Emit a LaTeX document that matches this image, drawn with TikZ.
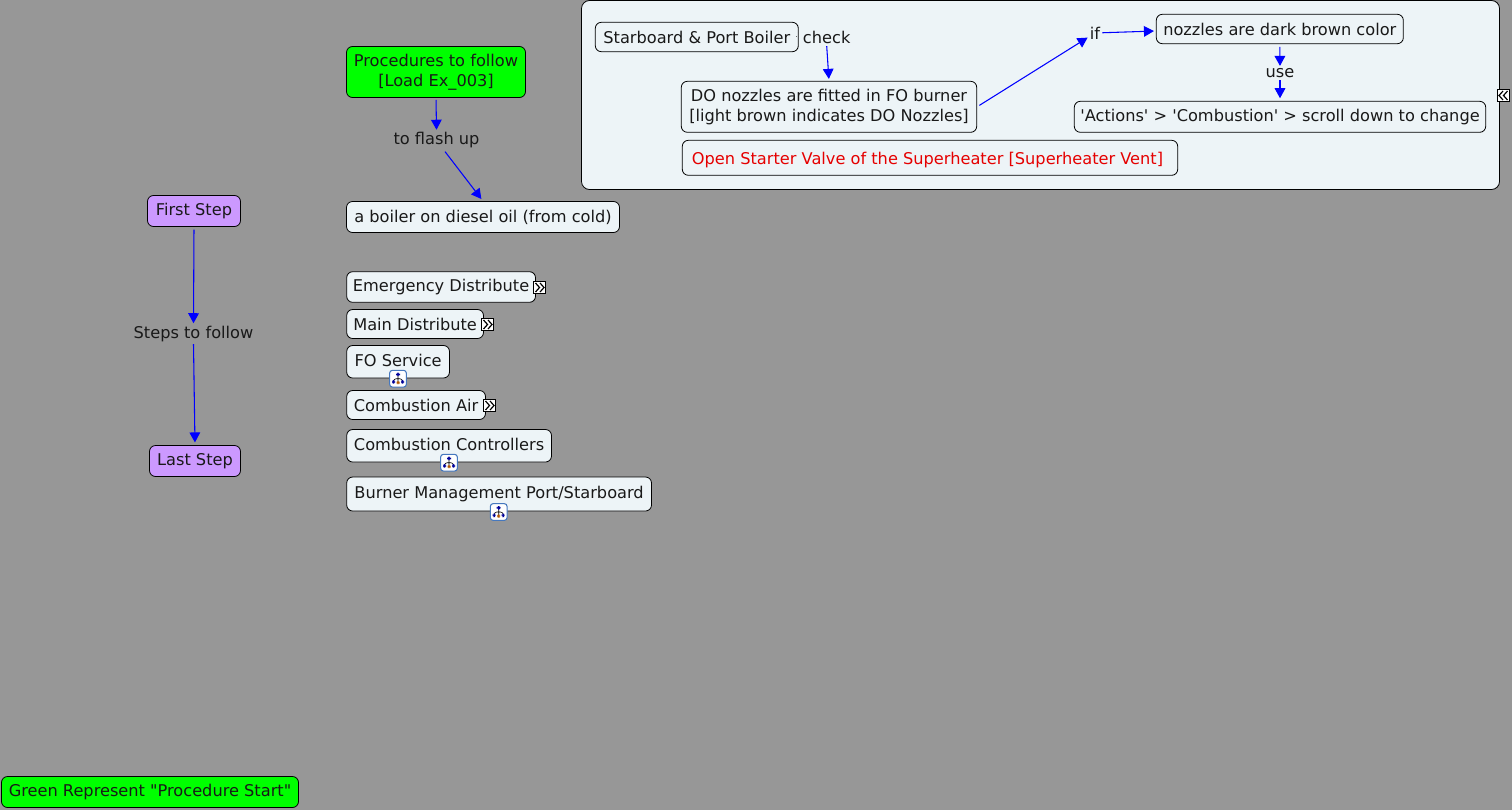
\documentclass[tikz,border=0pt]{standalone}
\usepackage{fontspec}
\setmainfont{DejaVu Sans}[Ligatures=TeXOff]
\usetikzlibrary{positioning, arrows.meta}
\definecolor{mapGrey}{RGB}{151,151,151}
\definecolor{panelBlue}{RGB}{237,244,247}
\definecolor{stepPurple}{RGB}{204,153,255}
\definecolor{procGreen}{RGB}{0,255,0}
\definecolor{iconBlue}{RGB}{70,120,190}
% box with its left/right/top/bottom edges given in pixels of the reference
\newcommand{\mapbox}[7][]{%
  \node[box, #1, minimum width=#5*0.75pt-#4*0.75pt, minimum height=#7*0.75pt-#6*0.75pt]
    (#2) at ({(#4+#5)/2},{(#6+#7)/2}) {#3};}

\begin{document}
\begin{tikzpicture}[
    x=0.75pt, y=-0.75pt,
    font=\fontsize{12.15pt}{14.8pt}\selectfont,
    box/.style={draw=black, line width=0.6pt, rounded corners=4.5pt, align=center,
                inner sep=0pt, fill=panelBlue, text=black!90},
    lbl/.style={inner sep=1.5pt, text=black!90},
    arr/.style={-{Triangle[length=7.5pt, width=8pt]}, line width=0.8pt, blue},
    expandicon/.style={draw=black, fill=white, line width=0.7pt, minimum size=9pt, inner sep=0pt,
      path picture={
        \draw[black, line width=0.9pt] (-4,-4.5) -- (0,0) -- (-4,4.5);
        \draw[black, line width=0.9pt] (0.5,-4.5) -- (4.5,0) -- (0.5,4.5);
      }},
    collapseicon/.style={draw=black, fill=white, line width=0.7pt, minimum size=9pt, inner sep=0pt,
      path picture={
        \draw[black, line width=0.9pt] (4,-4.5) -- (0,0) -- (4,4.5);
        \draw[black, line width=0.9pt] (-0.5,-4.5) -- (-4.5,0) -- (-0.5,4.5);
      }},
    mapicon/.style={draw=iconBlue, fill=white, line width=0.8pt, rounded corners=2pt,
      minimum size=12.5pt, inner sep=0pt,
      path picture={
        \draw[black, line width=0.45pt] (0,-3) -- (0,3) (-4.5,2.5) -- (-4.5,0) -- (4.5,0) -- (4.5,2.5);
        \fill[blue!60!black] (-2,-6) rectangle (2,-2.5);
        \fill[blue!60!black] (-6,1.5) rectangle (-3,5);
        \fill[orange!70!black] (-1.5,2.5) rectangle (1.5,5.5);
        \fill[blue!60!black] (3,1.5) rectangle (6,5);
      }},
  ]
    \useasboundingbox (0,0) rectangle (1512,810);
    \fill[mapGrey] (0,0) rectangle (1512,810);

    % panel top right
    \node[box, rounded corners=6pt, minimum width=688.5pt, minimum height=141.75pt] (panel) at (1040.5,95) {};
    \node[collapseicon] (panelicon) at (1503.5,95.5) {};

    \mapbox{star}{Starboard \& Port Boiler}{595.3}{798.3}{22.3}{51.7}
    \node[lbl] (check) at (826.7,37.5) {check};
    \mapbox{nozzleDO}{DO nozzles are fitted in FO burner\\{}[light brown indicates DO Nozzles]}{681.3}{976.7}{81.3}{132.3}
    \mapbox[text=red!90!black, text height=12pt]{valve}{Open Starter Valve of the Superheater [Superheater Vent]\kern3.75pt}{682.3}{1177.7}{140.3}{175.3}
    \node[lbl] (iflbl) at (1095,33) {if};
    \mapbox{dark}{nozzles are dark brown color}{1156.3}{1403.3}{14.3}{43.7}
    \node[lbl] (use) at (1280,73.5) {use};
    \mapbox{actions}{'Actions' > 'Combustion' > scroll down to change}{1074.3}{1485.7}{101.3}{132.3}

    % procedure start
    \mapbox[fill=procGreen]{proc}{Procedures to follow\\{}[Load Ex\_003]}{346.5}{525.5}{46.5}{97.5}
    \node[lbl] (flash) at (436.5,140.5) {to flash up};
    \mapbox{boiler}{a boiler on diesel oil (from cold)}{346.5}{619.5}{201.5}{232.5}

    % steps
    \mapbox[fill=stepPurple]{first}{First Step}{147.5}{240.5}{195.5}{226.5}
    \node[lbl] (steps) at (193.5,334) {Steps to follow};
    \mapbox[fill=stepPurple]{last}{Last Step}{149.5}{240.5}{445.5}{476.5}

    \mapbox{emergency}{Emergency Distribute}{346.7}{535.5}{271.7}{302.3}
    \mapbox{main}{Main Distribute}{346.7}{483.5}{309.5}{338.5}
    \mapbox[text depth=2.2pt]{service}{FO Service}{346.7}{449.5}{345.5}{378}
    \mapbox{air}{Combustion Air}{346.7}{485.5}{390.5}{419.5}
    \mapbox[text depth=1.5pt]{control}{Combustion Controllers}{346.7}{551.5}{429.5}{462}
    \mapbox{burner}{Burner Management Port/Starboard}{346.7}{651.5}{477}{511}

    \node[expandicon] (emergencyicon) at (539.5,287.5) {};
    \node[expandicon] (mainicon) at (487.5,324.5) {};
    \node[expandicon] (airicon) at (489.5,405.5) {};
    \node[mapicon] (serviceicon) at (398,378.7) {};
    \node[mapicon] (controlicon) at (449,462.7) {};
    \node[mapicon] (burnericon) at (498.7,512) {};

    \mapbox[fill=procGreen]{legend}{Green Represent "Procedure Start"}{1.5}{298.5}{776.5}{807.5}

    \draw[line width=0.4pt, black, shorten >=3pt, shorten <=1.8pt] (star.east) -- (check.west);
    \draw[arr, shorten >=1.5pt] (check.south) -- (nozzleDO.north);
    \draw[arr, shorten <=2pt] (nozzleDO.east) -- (iflbl);
    \draw[arr, shorten >=1.5pt] (iflbl) -- ([yshift=-1.5pt]dark.west);
    \draw[arr, shorten <=2pt, shorten >=0.5pt] (dark.south) -- (use.north);
    \draw[arr, shorten >=2pt] (use.south) -- (actions.north);
    \draw[arr, shorten <=1.5pt, shorten >=0.5pt] (proc.south) -- (flash.north);
    \draw[arr, shorten <=1pt, shorten >=2pt] (flash) -- (boiler.north);
    \draw[arr, shorten <=2pt, shorten >=0.5pt] (first.south) -- (steps.north);
    \draw[arr, shorten >=2pt] (steps.south) -- (last.north);
\end{tikzpicture}
\end{document}
